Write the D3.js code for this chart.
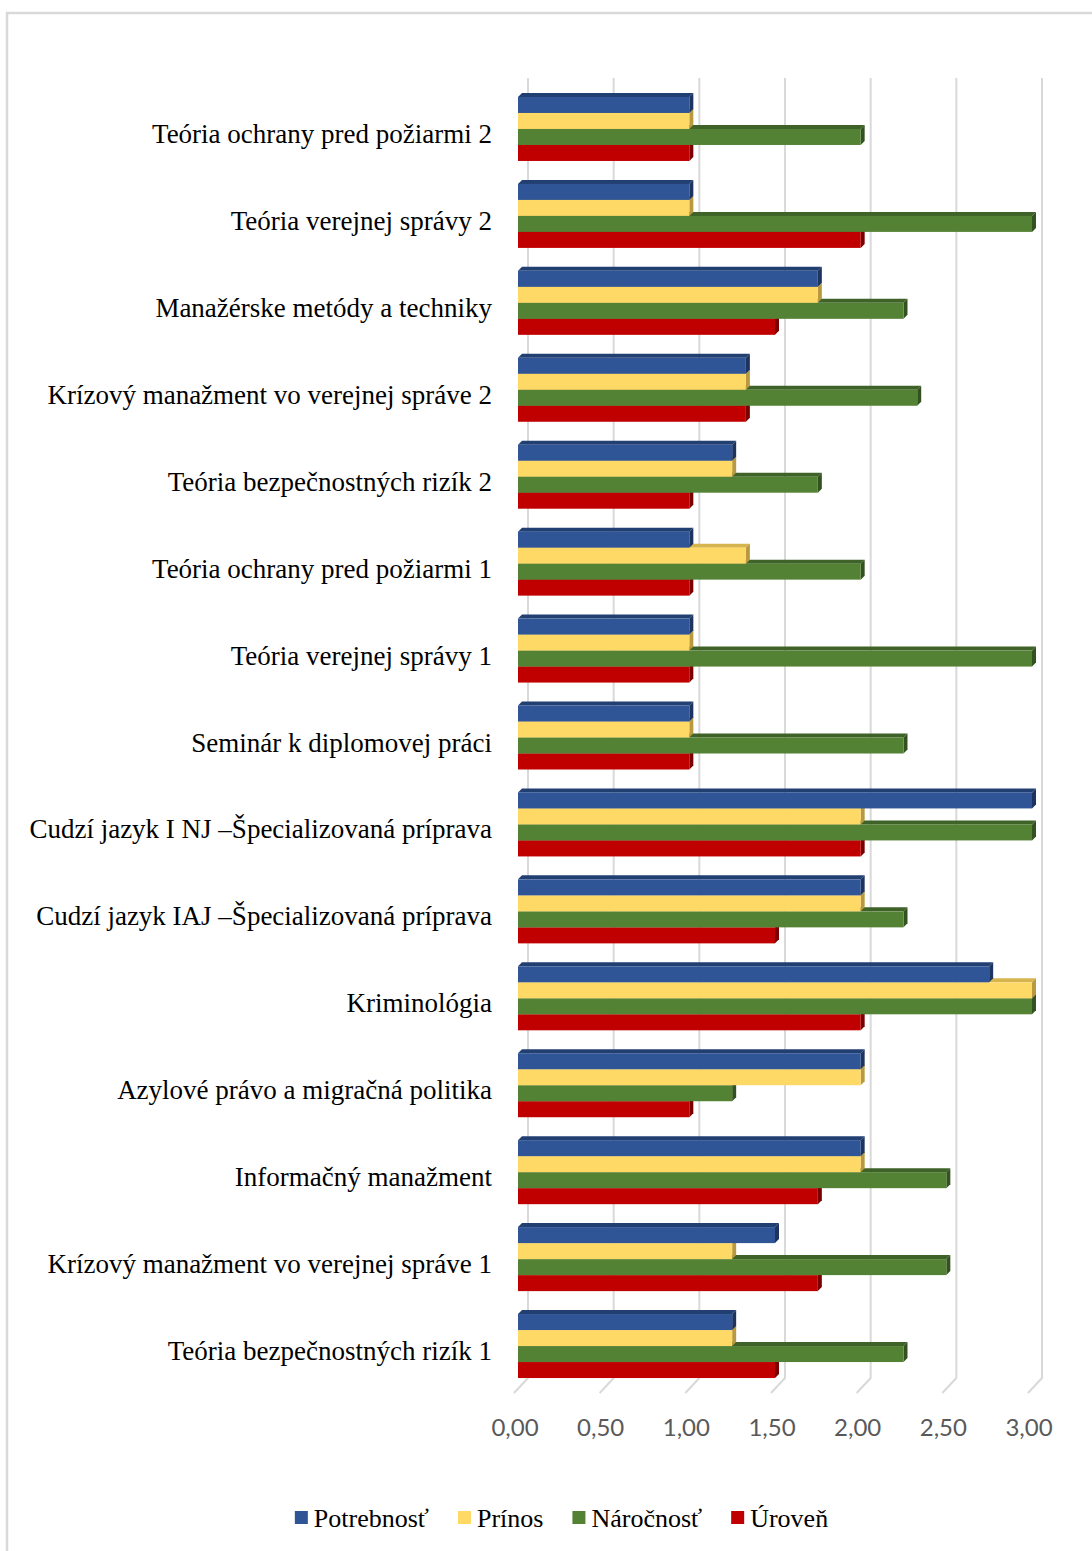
<!DOCTYPE html>
<html><head><meta charset="utf-8">
<script src="https://cdn.jsdelivr.net/npm/d3@7"></script>
<style>
html,body{margin:0;padding:0;background:#fff;}svg{display:block;}
.serif{font-family:"Liberation Serif","Tinos","Times New Roman","DejaVu Serif",serif;}
.sans{font-family:"Lato","Open Sans",sans-serif;}
</style>
</head><body>
<svg id="chart" width="1092" height="1551"></svg>
<script>
const categories = [
  "Teória ochrany pred požiarmi 2",
  "Teória verejnej správy 2",
  "Manažérske metódy a techniky",
  "Krízový manažment vo verejnej správe 2",
  "Teória bezpečnostných rizík 2",
  "Teória ochrany pred požiarmi 1",
  "Teória verejnej správy 1",
  "Seminár k diplomovej práci",
  "Cudzí jazyk I NJ –Špecializovaná príprava",
  "Cudzí jazyk IAJ –Špecializovaná príprava",
  "Kriminológia",
  "Azylové právo a migračná politika",
  "Informačný manažment",
  "Krízový manažment vo verejnej správe 1",
  "Teória bezpečnostných rizík 1"
];
const seriesNames = ["Potrebnosť", "Prínos", "Náročnosť", "Úroveň"];
const potrebnost = [1.00, 1.00, 1.75, 1.33, 1.25, 1.00, 1.00, 1.00, 3.00, 2.00, 2.75, 2.00, 2.00, 1.50, 1.25];
const prinos     = [1.00, 1.00, 1.75, 1.33, 1.25, 1.33, 1.00, 1.00, 2.00, 2.00, 3.00, 2.00, 2.00, 1.25, 1.25];
const narocnost  = [2.00, 3.00, 2.25, 2.33, 1.75, 2.00, 3.00, 2.25, 3.00, 2.25, 3.00, 1.25, 2.50, 2.50, 2.25];
const uroven     = [1.00, 2.00, 1.50, 1.33, 1.00, 1.00, 1.00, 1.00, 2.00, 1.50, 2.00, 1.00, 1.75, 1.75, 1.50];
const tickValues = [0, 0.5, 1, 1.5, 2, 2.5, 3];

const seriesValues = [potrebnost, prinos, narocnost, uroven];
const fronts = ["#2F5597", "#FFD966", "#548235", "#C00000"];
const tops   = ["#223F72", "#D6B54F", "#3E6227", "#8F0000"];
const sides  = ["#1D3461", "#B8993F", "#34521F", "#7A0000"];

const svg = d3.select("#chart");

// outer border
svg.append("rect").attr("x", 7).attr("y", 13).attr("width", 1100).attr("height", 1560)
  .attr("fill", "none").attr("stroke", "#d9d9d9").attr("stroke-width", 2.5);

const x = d3.scaleLinear().domain([0, 3]).range([518, 1032]);
const y = d3.scaleBand().domain(categories).range([85.5, 1389.5]).paddingInner(0.2637).paddingOuter(0.1318);
const ySub = d3.scaleBand().domain(seriesNames).range([0, y.bandwidth()]);

const backDx = 10, gridTop = 78, gridBottom = 1378, floorDx = -14, floorDy = 15;
const dd = 4; // bar depth

// gridlines (back wall + floor)
const grid = svg.append("g");
tickValues.forEach(t => {
  const xb = x(t) + backDx;
  grid.append("path")
    .attr("d", `M${xb},${gridTop} L${xb},${gridBottom} L${xb + floorDx},${gridBottom + floorDy}`)
    .attr("fill", "none").attr("stroke", "#d9d9d9").attr("stroke-width", 2);
});

// tick labels
svg.append("g").selectAll("text").data(tickValues).join("text")
  .attr("class", "sans")
  .attr("x", d => x(d) - 3).attr("y", 1436)
  .attr("text-anchor", "middle")
  .attr("font-size", 24)
  .attr("fill", "#595959")
  .text(d => d3.format(".2f")(d).replace(".", ","));

// bars: draw bottom series first so upper bars overlap tops
const bars = svg.append("g");
categories.forEach((cat, ci) => {
  for (let si = seriesNames.length - 1; si >= 0; si--) {
    const v = seriesValues[si][ci];
    const y0 = y(cat) + ySub(seriesNames[si]);
    const h = ySub.bandwidth();
    const x0 = x(0), x1 = x(v);
    const g = bars.append("g");
    g.append("path")
      .attr("d", `M${x0},${y0} L${x0 + dd},${y0 - dd} L${x1 + dd},${y0 - dd} L${x1},${y0} Z`)
      .attr("fill", tops[si]);
    g.append("path")
      .attr("d", `M${x1},${y0} L${x1 + dd},${y0 - dd} L${x1 + dd},${y0 + h - dd} L${x1},${y0 + h} Z`)
      .attr("fill", sides[si]);
    g.append("rect").attr("x", x0).attr("y", y0).attr("width", x1 - x0).attr("height", h)
      .attr("fill", fronts[si]);
  }
});

// category labels
svg.append("g").selectAll("text").data(categories).join("text")
  .attr("class", "serif")
  .attr("x", 492).attr("y", d => y(d) + y.bandwidth() / 2 + 14)
  .attr("text-anchor", "end")
  .attr("font-size", 27)
  .attr("fill", "#000")
  .text(d => d);

// legend
const legend = svg.append("g");
let lx = 0;
seriesNames.forEach((name, i) => {
  const g = legend.append("g");
  g.append("rect").attr("x", 0).attr("y", -16).attr("width", 13).attr("height", 13).attr("fill", fronts[i]);
  const t = g.append("text").attr("class", "serif").attr("x", 19).attr("y", 0)
    .attr("font-size", 26)
    .attr("fill", "#000").text(name);
  const w = t.node().getComputedTextLength();
  g.attr("transform", `translate(${lx},0)`);
  lx += 19 + w + 29;
});
const totalW = lx - 29;
legend.attr("transform", `translate(${561.5 - totalW / 2},1527)`);
</script>
</body></html>
